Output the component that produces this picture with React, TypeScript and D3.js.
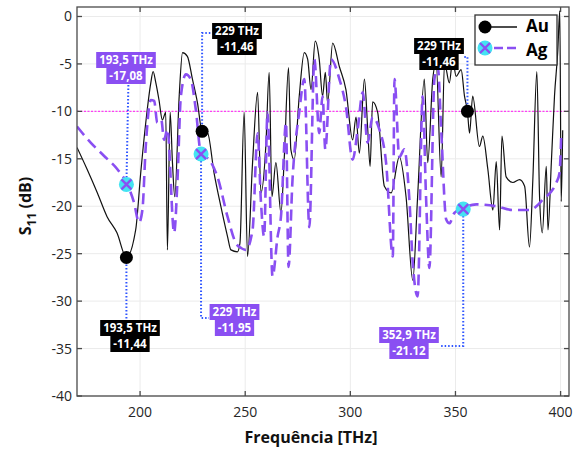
import React, { useEffect, useRef } from "react";
import * as d3 from "d3";

// frequency (THz) / S11 (dB)
const auFreq = [170, 174.8, 179.7, 184.3, 189, 193.5, 197.9, 200.3, 202.7, 205.1, 206.2, 207.5, 209, 210.6, 212.2, 213, 214.3, 215.4, 216.5, 218.6, 220.2, 222.5, 224.9, 227.3, 229.5, 232, 235.2, 238.4, 241.6, 243.2, 246.3, 247.5, 249.5, 251.1, 253.5, 255.9, 257.5, 259.8, 261.4, 262.7, 264.6, 267, 268.6, 270.6, 271.7, 273.3, 275.7, 278.1, 279.7, 281.3, 283.3, 285.2, 286.8, 288.1, 289.2, 291.6, 294.8, 297.9, 301.1, 302.7, 304.3, 306.7, 308.2, 309.4, 310.6, 313, 316.2, 319.4, 323.3, 326.5, 329.7, 332, 335.2, 336.8, 339.2, 340.8, 343.2, 344.8, 347.1, 348.7, 350.3, 352.7, 354.3, 355.7, 356.7, 358.2, 361.4, 363, 365.4, 367.8, 369.4, 371, 372.1, 374.1, 377.3, 380.5, 382.9, 385.2, 386.8, 388.7, 390, 391.3, 393.2, 394, 395.6, 397.1, 398.7, 399.6, 400.3, 401];
const auDb = [-13.8, -16.1, -18.6, -21.1, -22.8, -25.4, -22.5, -16.5, -11.2, -7, -5.8, -7, -8.8, -10.9, -10.1, -24.6, -10.1, -15.4, -19, -8.4, -3.8, -4.2, -6.6, -9.1, -12.1, -12.2, -16.5, -20, -23.2, -24.6, -24.8, -23.9, -10.1, -25.3, -15.4, -8, -18.6, -13.7, -5.9, -19, -15.4, -20.7, -14.8, -5.4, -14, -15.1, -8.4, -3.8, -4.5, -7.7, -2.6, -4.5, -8.4, -5.9, -9.1, -2.8, -5.3, -7.7, -13, -10.6, -14.4, -6.6, -11.6, -15.8, -9, -10.1, -17.9, -18.6, -14.8, -19, -27.8, -19, -6.6, -15.4, -6.6, -4.9, -16.9, -4.9, -7, -4.5, -6.3, -5.6, -8.4, -10, -12.3, -8.4, -13.7, -12.6, -16.1, -20.4, -15.3, -22.5, -12.6, -16.9, -17.5, -17.2, -17.9, -24.3, -17.2, -5.8, -19, -22.8, -15.8, -22.5, -15.4, -8.4, -3.5, 0.6, -19.5, -12];

const agFreq = [170, 176.5, 182.9, 189.2, 193.5, 197.1, 199.5, 201.1, 202.7, 205.1, 206.7, 208.2, 210.1, 211.4, 213, 216.2, 217.8, 219.4, 221.8, 224.1, 226.5, 229, 232.9, 236.8, 241.6, 245.6, 248, 250.3, 253.5, 255.9, 257.5, 259, 260.6, 263, 265.4, 267, 269.4, 270.6, 272.5, 275.7, 278.1, 280.5, 282.9, 285.2, 286.8, 288.1, 290.8, 294.8, 297.9, 301.1, 303.5, 305.9, 308.2, 310.6, 313.8, 317, 320.2, 321, 323.3, 325.7, 328, 329.7, 332, 334.4, 336, 337.6, 340, 341.6, 343.2, 345.6, 347.1, 349.5, 353.5, 359.9, 369.4, 377.3, 385.2, 391.6, 398, 399.5, 400.3];
const agDb = [-11.6, -13.3, -14.7, -16.1, -17.5, -19.6, -21.7, -20.4, -13.7, -8.8, -8.9, -11.2, -10.9, -13, -11.9, -22.8, -17.2, -8.4, -6.1, -6.6, -9.8, -14.5, -15.1, -16.9, -21.1, -23.9, -24.4, -24.6, -22.5, -12.3, -19.6, -23.2, -10.1, -27.4, -23.2, -21.1, -11.2, -26.4, -17.2, -10.1, -6.6, -22.2, -4.5, -12.3, -8.4, -14, -4.5, -6.6, -9.5, -15.1, -11.9, -8, -13.3, -10.6, -11.9, -15.4, -25.3, -6.6, -14.8, -14, -19, -26, -29.5, -8.4, -19, -26.5, -6.6, -5.3, -11.9, -21.4, -21.8, -20.7, -20.2, -19.8, -20, -20.4, -20.4, -19.3, -17.5, -16.5, -12.6];

// datatip markers
const auTipFreq = [193.5, 229.5, 355.7];
const auTipDb = [-25.4, -12.1, -10];
const agTipFreq = [193.5, 229, 353.7];
const agTipDb = [-17.7, -14.5, -20.3];

const xTicks = [200, 250, 300, 350, 400];
const yTicks = [0, -5, -10, -15, -20, -25, -30, -35, -40];
const threshold = -10;

const W = 585;
const H = 450;
const PURPLE = "#8a4ff2";
const CYAN = "#44e3f2";
const FONT = "'Open Sans', 'Noto Sans', sans-serif";

export default function App() {
  const ref = useRef<SVGSVGElement>(null);

  useEffect(() => {
    const svg = d3.select(ref.current);
    svg.selectAll("*").remove();

    const m = { left: 77, right: 569, top: 7, bottom: 396 };
    const x = d3.scaleLinear().domain([170, 404]).range([m.left, m.right]);
    const y = d3.scaleLinear().domain([-40, 1]).range([m.bottom, m.top]);

    svg.append("rect").attr("width", W).attr("height", H).attr("fill", "white");

    // grid
    const grid = svg.append("g").attr("stroke", "#ebebeb").attr("stroke-width", 1);
    xTicks.forEach((t) => grid.append("line").attr("x1", x(t)).attr("x2", x(t)).attr("y1", m.top).attr("y2", m.bottom));
    yTicks.forEach((t) => grid.append("line").attr("y1", y(t)).attr("y2", y(t)).attr("x1", m.left).attr("x2", m.right));

    svg.append("defs").append("clipPath").attr("id", "plot")
      .append("rect").attr("x", m.left).attr("y", m.top).attr("width", m.right - m.left).attr("height", m.bottom - m.top);

    const plot = svg.append("g").attr("clip-path", "url(#plot)");

    plot.append("line")
      .attr("x1", m.left).attr("x2", m.right).attr("y1", y(threshold)).attr("y2", y(threshold))
      .attr("stroke", "#ff3df5").attr("stroke-width", 1.2).attr("stroke-dasharray", "2,1.5");

    const line = d3.line<number>()
      .x((d) => x(d))
      .curve(d3.curveMonotoneX);

    plot.append("path")
      .attr("d", line.y((_, i) => y(auDb[i]))(auFreq))
      .attr("fill", "none").attr("stroke", "#111").attr("stroke-width", 1.2);

    plot.append("path")
      .attr("d", line.y((_, i) => y(agDb[i]))(agFreq))
      .attr("fill", "none").attr("stroke", PURPLE).attr("stroke-width", 2.6)
      .attr("stroke-dasharray", "11,6");

    // datatips: labels, colour, box centre / top and connector route
    const px = (f: number) => x(f);
    const py = (d: number) => y(d);
    const tips = [
      { lines: ["193,5 THz", "-17,08"], color: PURPLE, cx: 126, top: 52,
        path: [[px(agTipFreq[0]), py(agTipDb[0])], [px(agTipFreq[0]) + 2, 83]] },
      { lines: ["229 THz", "-11,46"], color: "#000", cx: 237, top: 23,
        path: [[px(auTipFreq[1]), py(auTipDb[1])], [px(auTipFreq[1]), 33], [212, 33]] },
      { lines: ["193,5 THz", "-11,44"], color: "#000", cx: 130, top: 320,
        path: [[px(auTipFreq[0]), py(auTipDb[0])], [px(auTipFreq[0]), 320]] },
      { lines: ["229 THz", "-11,95"], color: PURPLE, cx: 234.5, top: 304,
        path: [[px(agTipFreq[1]), py(agTipDb[1])], [px(agTipFreq[1]), 318], [209, 318]] },
      { lines: ["229 THz", "-11,46"], color: "#000", cx: 439, top: 38,
        path: [[px(auTipFreq[2]), py(auTipDb[2])], [px(auTipFreq[2]), 57], [463, 57]] },
      { lines: ["352,9 THz", "-21.12"], color: PURPLE, cx: 409, top: 327,
        path: [[px(agTipFreq[2]), py(agTipDb[2])], [px(agTipFreq[2]), 346], [441, 346]] },
    ];

    const conn = svg.append("g");
    tips.forEach((t) => {
      conn.append("path")
        .attr("d", d3.line()(t.path as [number, number][]))
        .attr("fill", "none").attr("stroke", "#2f55ff").attr("stroke-width", 2)
        .attr("stroke-dasharray", "1.5,2");
    });

    // markers
    auTipFreq.forEach((f, i) => {
      svg.append("circle").attr("cx", x(f)).attr("cy", y(auTipDb[i])).attr("r", 6.5).attr("fill", "#000");
    });
    const cross = (g: d3.Selection<SVGGElement, unknown, null, undefined>, cx: number, cy: number) => {
      g.append("circle").attr("cx", cx).attr("cy", cy).attr("r", 7.5).attr("fill", CYAN);
      g.append("path")
        .attr("d", `M${cx - 5},${cy - 5}L${cx + 5},${cy + 5}M${cx - 5},${cy + 5}L${cx + 5},${cy - 5}`)
        .attr("stroke", PURPLE).attr("stroke-width", 2.4);
    };
    const agG = svg.append("g");
    agTipFreq.forEach((f, i) => cross(agG, x(f), y(agTipDb[i])));

    // tip boxes
    const rowH = 16;
    tips.forEach((t) => {
      const g = svg.append("g");
      t.lines.forEach((s, j) => {
        const txt = g.append("text")
          .attr("x", t.cx).attr("y", t.top + j * rowH + 12)
          .attr("text-anchor", "middle").attr("fill", "white")
          .style("font-family", FONT).style("font-size", "11.5px").style("font-weight", "bold")
          .text(s);
        const w = (txt.node() as SVGTextElement).getComputedTextLength() + 6;
        g.insert("rect", "text")
          .attr("x", t.cx - w / 2).attr("y", t.top + j * rowH)
          .attr("width", w).attr("height", rowH).attr("fill", t.color);
      });
    });

    // axes box with inward ticks on all sides
    const ax = svg.append("g").attr("stroke", "#4a4a4a").attr("stroke-width", 1.3);
    ax.append("rect").attr("x", m.left).attr("y", m.top).attr("width", m.right - m.left).attr("height", m.bottom - m.top).attr("fill", "none");
    xTicks.forEach((t) => {
      ax.append("line").attr("x1", x(t)).attr("x2", x(t)).attr("y1", m.bottom).attr("y2", m.bottom - 5);
      ax.append("line").attr("x1", x(t)).attr("x2", x(t)).attr("y1", m.top).attr("y2", m.top + 5);
    });
    yTicks.forEach((t) => {
      ax.append("line").attr("x1", m.left).attr("x2", m.left + 5).attr("y1", y(t)).attr("y2", y(t));
      ax.append("line").attr("x1", m.right).attr("x2", m.right - 5).attr("y1", y(t)).attr("y2", y(t));
    });

    const labels = svg.append("g").style("font-family", FONT).attr("fill", "#262626");
    xTicks.forEach((t) => {
      labels.append("text").attr("x", x(t)).attr("y", 417).attr("text-anchor", "middle")
        .style("font-size", "14px").text(t);
    });
    yTicks.forEach((t) => {
      labels.append("text").attr("x", 72).attr("y", y(t) + 5).attr("text-anchor", "end")
        .style("font-size", "14px").text(t);
    });

    labels.append("text").attr("x", 311).attr("y", 443).attr("text-anchor", "middle")
      .style("font-size", "16px").style("font-weight", "bold").attr("fill", "#111").text("Frequência [THz]");

    const yl = labels.append("text")
      .attr("transform", `translate(31,206) rotate(-90)`)
      .attr("text-anchor", "middle")
      .style("font-size", "16px").style("font-weight", "bold").attr("fill", "#111");
    yl.append("tspan").text("S");
    yl.append("tspan").attr("dy", 5).style("font-size", "12px").text("11");
    yl.append("tspan").attr("dy", -5).text(" (dB)");

    // legend
    const lg = svg.append("g");
    lg.append("rect").attr("x", 475).attr("y", 15).attr("width", 82).attr("height", 50)
      .attr("fill", "white").attr("stroke", "#333").attr("stroke-width", 1.3);
    lg.append("line").attr("x1", 481).attr("x2", 517).attr("y1", 27).attr("y2", 27).attr("stroke", "#111").attr("stroke-width", 1.5);
    lg.append("circle").attr("cx", 485).attr("cy", 27).attr("r", 6.5).attr("fill", "#000");
    lg.append("line").attr("x1", 481).attr("x2", 517).attr("y1", 48).attr("y2", 48).attr("stroke", PURPLE).attr("stroke-width", 2.6).attr("stroke-dasharray", "9,4");
    cross(lg, 485, 48);
    lg.append("text").attr("x", 526).attr("y", 32).style("font-family", FONT).style("font-size", "17px").style("font-weight", "bold").text("Au");
    lg.append("text").attr("x", 526).attr("y", 55.5).style("font-family", FONT).style("font-size", "17px").style("font-weight", "bold").text("Ag");
  }, []);

  return <svg ref={ref} width={W} height={H} style={{ position: "fixed", left: 0, top: 0 }} />;
}
